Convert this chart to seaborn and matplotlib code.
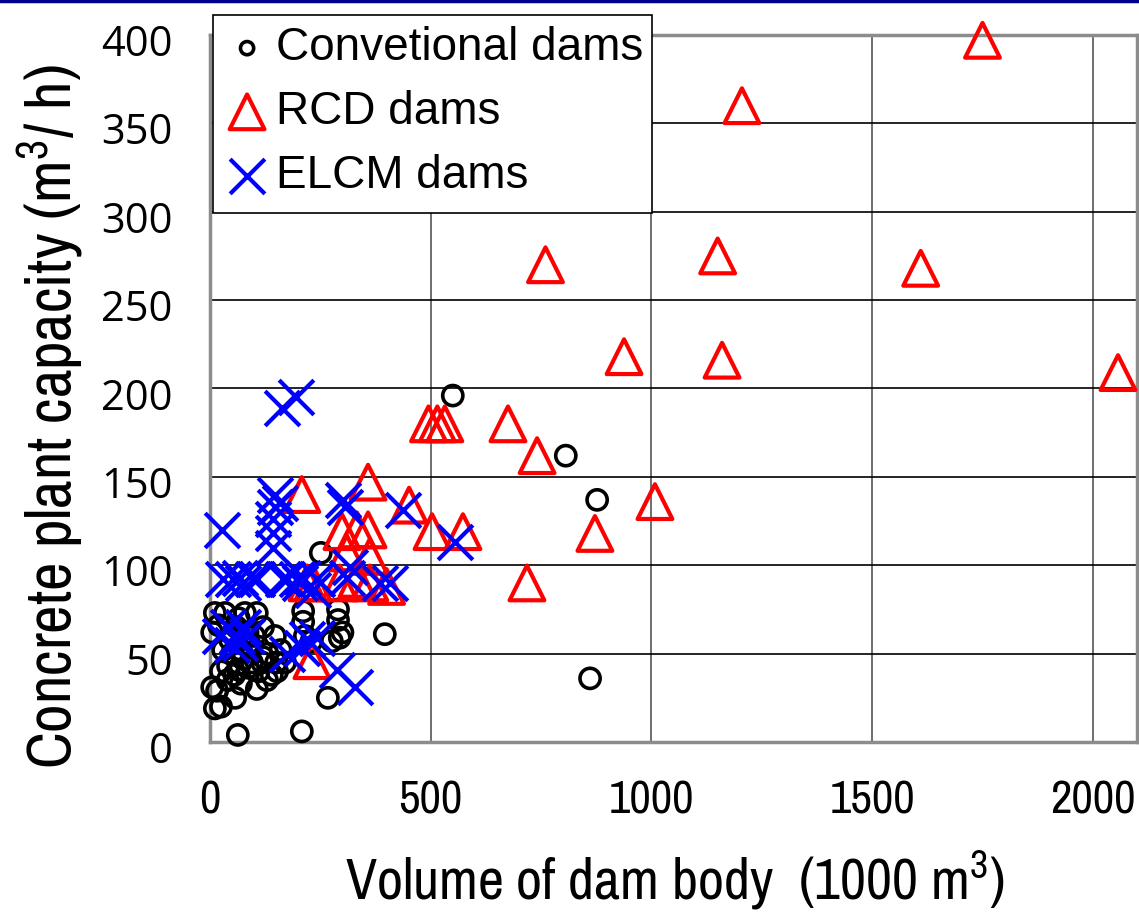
import matplotlib
matplotlib.use("Agg")
import matplotlib.pyplot as plt
from matplotlib import font_manager
from matplotlib.font_manager import FontProperties
from matplotlib.lines import Line2D
from matplotlib.patches import Rectangle
from matplotlib.transforms import ScaledTranslation
import seaborn as sns
import pandas as pd

# ---------------- data ----------------
conv_x = [550, 806, 877, 861, 396, 251, 208, 63, 267, 11, 5, 16, 57, 106, 129, 152, 170,
          118, 41, 63, 86, 147, 11, 34, 79, 106, 5, 211, 211, 290, 290, 294, 276, 120,
          50, 70, 90, 30, 100, 60, 45, 75, 95, 55, 40, 25, 130, 150, 160, 85, 20, 65,
          120, 300, 215, 230, 110, 140, 25, 70]
conv_y = [196, 162, 137, 36, 61, 107, 6, 4, 25, 19, 31, 29, 25, 30, 35, 40, 45,
          45, 43, 41, 42, 60, 73, 73, 73, 73, 62, 74, 68, 75, 69, 59, 57, 48,
          50, 52, 55, 52, 60, 65, 58, 47, 45, 38, 35, 40, 50, 45, 52, 62, 66, 70,
          65, 62, 60, 57, 40, 38, 20, 33]

rcd_x = [1750, 1205, 760, 1150, 1610, 938, 1160, 2057, 495, 515, 532, 675, 741, 1008,
         872, 718, 208, 358, 451, 503, 573, 299, 333, 358, 310, 362, 294, 333, 362,
         400, 233, 231, 220]
rcd_y = [397, 360, 270, 275, 268, 218, 216, 209, 180, 180, 180, 180, 162, 136,
         118, 90, 140, 147, 134, 119, 119, 119, 120, 120, 107, 105, 90, 92, 90,
         88, 90, 46, 90]

elcm_x = [163, 195, 27, 147, 147, 143, 143, 143, 159, 306, 301, 437, 555, 385, 317,
          211, 233, 52, 75, 30, 106, 174, 204, 166, 197, 242, 310, 408, 68, 97,
          23, 61, 84, 68, 174, 220, 242, 208, 288, 328, 40, 50, 75]
elcm_y = [189, 195, 120, 140, 133, 126, 118, 110, 135, 133, 137, 131, 113, 90, 99,
          93, 86, 92, 90, 92, 92, 92, 90, 92, 92, 92, 93, 90, 93, 92,
          60, 60, 60, 56, 50, 58, 59, 53, 41, 31, 65, 55, 65]

labels = ["Convetional dams", "RCD dams", "ELCM dams"]
xticks = [0, 500, 1000, 1500, 2000]
yticks = [0, 50, 100, 150, 200, 250, 300, 350, 400]

# ---------------- fonts ----------------
avail = {f.name for f in font_manager.fontManager.ttflist}


def find_condensed():
    smap = {"ultra-condensed": 100, "extra-condensed": 200, "condensed": 300,
            "semi-condensed": 400, "normal": 500}
    best = None
    for f in font_manager.fontManager.ttflist:
        st = f.stretch
        stv = smap.get(st, 500) if isinstance(st, str) else st
        nm = f.name
        if any(k in nm for k in ("Serif", "Mono", "CJK")):
            continue
        if f.style != "normal":
            continue
        w = f.weight if isinstance(f.weight, int) else (400 if f.weight in ("normal", "regular", "book") else 700)
        if w not in (400,):
            continue
        cond = ("Narrow" in nm) or ("Condensed" in nm) or stv < 500 \
            or "Condensed" in f.fname or "Narrow" in f.fname
        if not cond:
            continue
        score = abs(stv - 250) + (0 if "Narrow" in nm or "Narrow" in f.fname else 50)
        if best is None or score < best[0]:
            best = (score, f.fname)
    return best[1] if best else None


cond_file = find_condensed()


def cprops(size):
    if cond_file:
        return FontProperties(fname=cond_file, size=size)
    return FontProperties(family="DejaVu Sans", size=size)


tickfont = "Open Sans" if "Open Sans" in avail else "DejaVu Sans"
legfont = "Liberation Sans" if "Liberation Sans" in avail else "DejaVu Sans"

sns.set_theme(style="white")
plt.rcParams["font.family"] = [legfont, "DejaVu Sans"]
plt.rcParams["mathtext.default"] = "regular"
for k in ("text.color", "axes.labelcolor", "xtick.color", "ytick.color"):
    plt.rcParams[k] = "black"

fig = plt.figure(figsize=(11.39, 9.21), dpi=100)
ax = fig.add_axes([210 / 1139, 1 - 742 / 921, 927 / 1139, 707 / 921])

df_c = pd.DataFrame({"x": conv_x, "y": conv_y})
df_r = pd.DataFrame({"x": rcd_x, "y": rcd_y})
df_e = pd.DataFrame({"x": elcm_x, "y": elcm_y})

sns.scatterplot(data=df_c, x="x", y="y", ax=ax, marker="o", s=14.5 ** 2,
                color="black", facecolor="none", edgecolor="black", linewidth=2.6,
                label=labels[0], zorder=3, clip_on=False)
sns.scatterplot(data=df_r, x="x", y="y", ax=ax, marker="^", s=25 ** 2,
                color="red", facecolor="none", edgecolor="red", linewidth=3.0,
                label=labels[1], zorder=4, clip_on=False)
sns.scatterplot(data=df_e, x="x", y="y", ax=ax, marker="x", s=25 ** 2,
                color="blue", linewidth=3.0, label=labels[2], zorder=5, clip_on=False)

handles, leg_labels = ax.get_legend_handles_labels()
if ax.get_legend() is not None:
    ax.get_legend().remove()

ax.set_xlim(0, 2100)
ax.set_ylim(0, 400)
ax.set_xticks(xticks)
ax.set_yticks(yticks)
ax.set_xticklabels([str(t) for t in xticks])
ax.set_yticklabels([str(t) for t in yticks], fontfamily=tickfont, fontsize=30,
                   va="center")
ax.tick_params(axis="both", length=0)
ax.tick_params(axis="x", pad=27)
ax.tick_params(axis="y", pad=27)

ax.grid(True, axis="y", color="black", linewidth=1.2)
ax.grid(True, axis="x", color="#555555", linewidth=1.2)
ax.set_axisbelow(True)
for sp in ax.spines.values():
    sp.set_color("#8c8c8c")
    sp.set_linewidth(2.5)
    sp.set_visible(True)

ax.set_xlabel("Volume of dam body  (1000 m$^{3}$)")
ax.set_ylabel("Concrete plant capacity (m$^{3}$/ h)")

# fit condensed texts to the reference's extents (in pixels)
fig.canvas.draw()
renderer = fig.canvas.get_renderer()


def fit(text, target, horizontal=True, base=40):
    text.set_fontproperties(cprops(base))
    bb = text.get_window_extent(renderer)
    cur = bb.width if horizontal else bb.height
    text.set_fontproperties(cprops(base * target / cur))


fit(ax.xaxis.label, 660, True)
fit(ax.yaxis.label, 705, False)
xsize = 30
for lab in ax.get_xticklabels():
    if lab.get_text() == "1000":
        fit(lab, 76, True, 30)
        xsize = lab.get_fontproperties().get_size_in_points() * 1.12
for lab in ax.get_xticklabels():
    lab.set_fontproperties(cprops(xsize))

# y tick labels sit a little below their gridlines in the reference
shift = ScaledTranslation(0, -0.10, fig.dpi_scale_trans)
for lab in ax.get_yticklabels():
    lab.set_transform(lab.get_transform() + shift)

ax.xaxis.set_label_coords(0.502, -0.150)
ax.yaxis.set_label_coords(-0.172, 0.46)
ax.yaxis.label.set_va("center")

# legend (figure level) with its own box
box = Rectangle((213 / 1139, 1 - 213 / 921), 439 / 1139, 198 / 921,
                transform=fig.transFigure, facecolor="white", edgecolor="black",
                linewidth=1.2, zorder=4)
fig.add_artist(box)
leg = fig.legend(handles, leg_labels, loc="upper left",
                 bbox_to_anchor=(215 / 1139, 1 - 17 / 921),
                 frameon=False, prop={"family": legfont, "size": 33},
                 handlelength=1.0, handletextpad=0.12, borderpad=0.2,
                 labelspacing=0.43, borderaxespad=0)
leg.set_zorder(6)
leg.legend_handles[0].set_sizes([9.5 ** 2])
for t in leg.get_texts():
    t.set_color("black")

fig.add_artist(Line2D([0, 1], [1 - 1.5 / 921, 1 - 1.5 / 921], color="#00008b",
                      linewidth=2.5, transform=fig.transFigure))

fig.savefig("out.png", dpi=100)
